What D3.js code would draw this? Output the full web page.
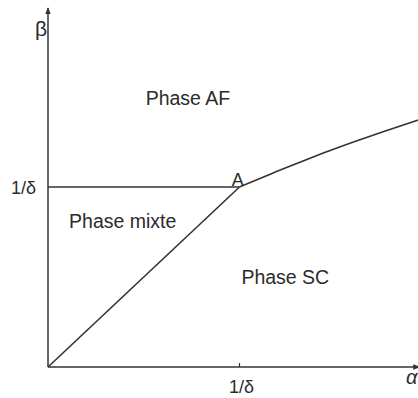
<!DOCTYPE html>
<html>
<head>
<meta charset="utf-8">
<script src="https://cdn.jsdelivr.net/npm/d3@7"></script>
<style>
  body { margin: 0; background: #fff; }
  text { font-family: "Liberation Sans", Arial, sans-serif; fill: #2b2b2b; }
</style>
</head>
<body>
<svg id="chart" width="418" height="398"></svg>
<script>
// phase diagram, values in units of 1/delta
var mixedBoundary = [[0, 0], [1, 1]];
var flatBoundary = [[0, 1], [1, 1]];
var afBoundary = [[1, 1], [1.165, 1.074], [1.341, 1.149], [1.463, 1.199],
	[1.604, 1.254], [1.779, 1.318], [1.96, 1.382]];

var xTicks = [{v: 1, label: "1/δ"}];
var yTicks = [{v: 1, label: "1/δ"}];

var regionLabels = [
	{x: 0.51, y: 1.455, text: "Phase AF"},
	{x: 0.11, y: 0.77, text: "Phase mixte"},
	{x: 1.01, y: 0.46, text: "Phase SC"},
	{x: 0.96, y: 1.005, text: "A"}
];

var xMax = 1.94, yMax = 1.995;

function draw() {
	var svg = d3.select("#chart");

	var x = d3.scaleLinear().domain([0, 1]).range([48, 239.5]);
	var y = d3.scaleLinear().domain([0, 1]).range([367, 187]);

	var ink = "#333";

	var defs = svg.append("defs");
	defs.append("marker")
		.attr("id", "arrow")
		.attr("viewBox", "0 0 10 10")
		.attr("refX", 9).attr("refY", 5)
		.attr("markerWidth", 7).attr("markerHeight", 7)
		.attr("markerUnits", "userSpaceOnUse")
		.attr("orient", "auto")
		.append("path")
		.attr("d", "M0,1 L10,5 L0,9 Z")
		.style("fill", ink);

	// axes
	svg.append("line")
		.attr("x1", x(0)).attr("y1", y(0))
		.attr("x2", x(xMax)).attr("y2", y(0))
		.style("stroke", ink).style("stroke-width", 1.5)
		.attr("marker-end", "url(#arrow)");
	svg.append("line")
		.attr("x1", x(0)).attr("y1", y(0))
		.attr("x2", x(0)).attr("y2", y(yMax))
		.style("stroke", ink).style("stroke-width", 1.5)
		.attr("marker-end", "url(#arrow)");

	svg.selectAll(".xtick")
		.data(xTicks)
		.enter()
		.append("line")
		.attr("x1", function(d) { return x(d.v); })
		.attr("x2", function(d) { return x(d.v); })
		.attr("y1", y(0)).attr("y2", y(0) - 4)
		.style("stroke", ink).style("stroke-width", 1.2);

	svg.selectAll(".xlab")
		.data(xTicks)
		.enter()
		.append("text")
		.attr("x", function(d) { return x(d.v) + 2; })
		.attr("y", 393)
		.attr("text-anchor", "middle")
		.style("font-size", "18px")
		.text(function(d) { return d.label; });

	svg.selectAll(".ylab")
		.data(yTicks)
		.enter()
		.append("text")
		.attr("x", 36)
		.attr("y", function(d) { return y(d.v) + 7; })
		.attr("text-anchor", "end")
		.style("font-size", "18px")
		.text(function(d) { return d.label; });

	svg.append("text")
		.attr("x", 35).attr("y", 36)
		.style("font-size", "21px")
		.text("β");
	svg.append("text")
		.attr("x", 406).attr("y", 384)
		.style("font-size", "20px")
		.style("font-style", "italic")
		.text("α");

	// phase boundaries
	var line = d3.line()
		.x(function(d) { return x(d[0]); })
		.y(function(d) { return y(d[1]); });

	svg.append("path")
		.datum(flatBoundary)
		.attr("d", line)
		.style("fill", "none").style("stroke", ink).style("stroke-width", 1.6);
	svg.append("path")
		.datum(mixedBoundary)
		.attr("d", line)
		.style("fill", "none").style("stroke", ink).style("stroke-width", 1.6);
	svg.append("path")
		.datum(afBoundary)
		.attr("d", line.curve(d3.curveBasis))
		.style("fill", "none").style("stroke", ink).style("stroke-width", 1.6);

	svg.selectAll(".region")
		.data(regionLabels)
		.enter()
		.append("text")
		.attr("x", function(d) { return x(d.x); })
		.attr("y", function(d) { return y(d.y); })
		.style("font-size", function(d) { return d.text == "A" ? "18px" : "19.5px"; })
		.text(function(d) { return d.text; });
}

draw();
</script>
</body>
</html>
